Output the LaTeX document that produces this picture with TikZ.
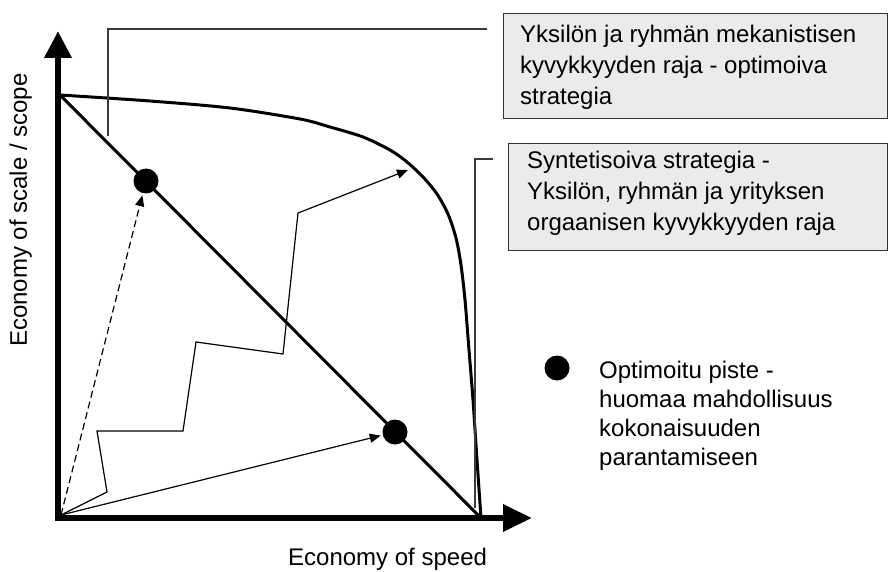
\documentclass[tikz,border=0pt]{standalone}
\usepackage{fontspec}
\setmainfont{Liberation Sans}
\usetikzlibrary{arrows.meta}
\definecolor{boxfill}{HTML}{EBEBEB}
\definecolor{boxline}{HTML}{333333}
\definecolor{leader}{HTML}{3A3A3A}
\tikzset{
  axisline/.style={line width=6.5pt, line join=miter, {Triangle[length=27pt,width=26pt]}-{Triangle[length=29pt,width=26pt]}},
  thickline/.style={line width=3pt},
  thinarrow/.style={line width=1.2pt, -{Triangle[length=11pt,width=9pt]}, shorten >=2pt},
  dasharrow/.style={thinarrow, dash pattern=on 7pt off 4pt},
  leaderline/.style={line width=1.3pt, draw=leader},
  dot/.style={circle, fill=black, inner sep=0pt, minimum size=25pt},
  boxshape/.style={draw=boxline, line width=1.3pt, fill=boxfill, inner sep=0pt, anchor=north west},
  txt/.style={inner sep=0pt, align=left, font=\fontsize{24}{31}\selectfont},
  legtxt/.style={inner sep=0pt, align=left, font=\fontsize{24}{29}\selectfont},
}
\begin{document}
\begin{tikzpicture}[x=1pt,y=-1pt]
\useasboundingbox (0,0) rectangle (888,572);
% axes
\coordinate (O) at (58,518);
\coordinate (Ytip) at (58,31);
\coordinate (Xtip) at (532,518);
\draw[axisline] (Ytip) -- (O) -- (Xtip);
% frontier curve
\draw[thickline] plot[smooth, tension=0.5] coordinates {(60,95) (150,101) (230,108) (300,119) (330,127) (363,137) (390,150) (407,162) (423,177) (437,194) (448,214) (456,238) (461,265) (465,300) (469,350) (473,400) (477,460) (481,518)};
% diagonal
\coordinate (T) at (60,95);
\coordinate (B) at (481,518);
\draw[thickline] (T) -- (B);
% dots
\node[dot] (d1) at (146,181) {};
\node[dot] (d2) at (395,432) {};
\node[dot] (d3) at (557,368) {};
% arrows from origin
\coordinate (o2) at (61,515);
\draw[dasharrow] (o2) -- (d1);
\draw[thinarrow] (o2) -- (d2);
\coordinate (z1) at (107,492);
\coordinate (z2) at (97,431);
\coordinate (z3) at (183,431);
\coordinate (z4) at (196,342);
\coordinate (z5) at (283,354);
\coordinate (z6) at (298,213);
\coordinate (z7) at (408,170);
\draw[thinarrow, shorten >=0pt, line join=miter] (o2) -- (z1) -- (z2) -- (z3) -- (z4) -- (z5) -- (z6) -- (z7);
% boxes
\node[boxshape, minimum width=384pt, minimum height=105pt] (box1) at (503,13) {};
\node[boxshape, minimum width=379pt, minimum height=107pt] (box2) at (508,143) {};
\node[txt, anchor=north west] (t1) at (520,24) {\rule{0pt}{18pt}Yksilön ja ryhmän mekanistisen\\kyvykkyyden raja - optimoiva\\strategia};
\node[txt, anchor=north west] (t2) at (527,150) {\rule{0pt}{18pt}Syntetisoiva strategia -\\Yksilön, ryhmän ja yrityksen\\orgaanisen kyvykkyyden raja};
% leader lines
\coordinate (c1s) at (108,136);
\coordinate (c1e) at (487,29);
\draw[leaderline] (c1s) |- (c1e);
\coordinate (c2s) at (475,508);
\coordinate (c2e) at (493,159);
\draw[leaderline] (c2s) |- (c2e);
% legend
\node[legtxt, anchor=north west] (leg) at (599,360) {\rule{0pt}{18pt}Optimoitu piste -\\huomaa mahdollisuus\\kokonaisuuden\\parantamiseen};
% axis labels
\node[inner sep=0pt, anchor=base west, rotate=90, font=\fontsize{24}{29}\selectfont] (ylab) at (27,347) {Economy of scale / scope};
\node[inner sep=0pt, anchor=base west, font=\fontsize{24}{29}\selectfont] (xlab) at (288,565) {Economy of speed};
\end{tikzpicture}
\end{document}
